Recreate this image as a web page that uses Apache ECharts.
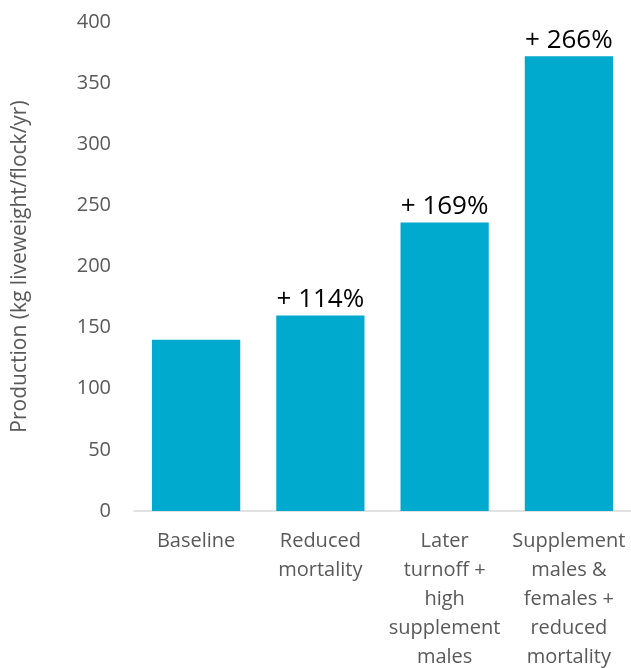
<!DOCTYPE html>
<html>
<head>
<meta charset="utf-8">
<script src="https://cdn.jsdelivr.net/npm/echarts@6/dist/echarts.min.js"></script>
<style>
  html, body { margin: 0; padding: 0; background: #fff; }
  #main { width: 631px; height: 668px; }
</style>
</head>
<body>
<div id="main"></div>
<script>
(function () {
    var categories = [
        'Baseline',
        'Reduced\nmortality',
        'Later\nturnoff +\nhigh\nsupplement\nmales',
        'Supplement\nmales &\nfemales +\nreduced\nmortality'
    ];
    var production = [140, 160, 236, 372];
    var increaseLabels = ['', '+ 114%', '+ 169%', '+ 266%'];
    var yTicks = { min: 0, max: 400, interval: 50 };

    var font = '"Open Sans", sans-serif';
    var myChart = echarts.init(document.getElementById('main'));
    var option = {
        animation: false,
        grid: {
            left: 134,
            right: 0,
            top: 22,
            bottom: 157,
            containLabel: false,
            outerBoundsMode: 'none'
        },
        xAxis: {
            type: 'category',
            data: categories,
            axisLine: { lineStyle: { color: '#d9d9d9', width: 1.5 } },
            axisTick: { show: false },
            axisLabel: {
                color: '#595959',
                fontSize: 20,
                fontFamily: font,
                lineHeight: 29,
                margin: 16,
                interval: 0
            }
        },
        yAxis: {
            type: 'value',
            min: yTicks.min,
            max: yTicks.max,
            interval: yTicks.interval,
            name: 'Production (kg liveweight/flock/yr)',
            nameLocation: 'middle',
            nameGap: 103,
            nameTextStyle: { color: '#595959', fontSize: 21, fontFamily: font },
            splitLine: { show: false },
            axisLine: { show: false },
            axisTick: { show: false },
            axisLabel: {
                color: '#595959',
                fontSize: 20,
                fontFamily: font,
                margin: 23
            }
        },
        series: [
            {
                type: 'bar',
                data: production,
                barCategoryGap: '29%',
                itemStyle: { color: '#00a9ce' },
                label: {
                    show: true,
                    position: 'top',
                    distance: 3,
                    color: '#000',
                    fontSize: 26,
                    fontFamily: font,
                    formatter: function (p) {
                        return increaseLabels[p.dataIndex];
                    }
                }
            }
        ]
    };

    myChart.setOption(option);
})();
</script>
</body>
</html>
